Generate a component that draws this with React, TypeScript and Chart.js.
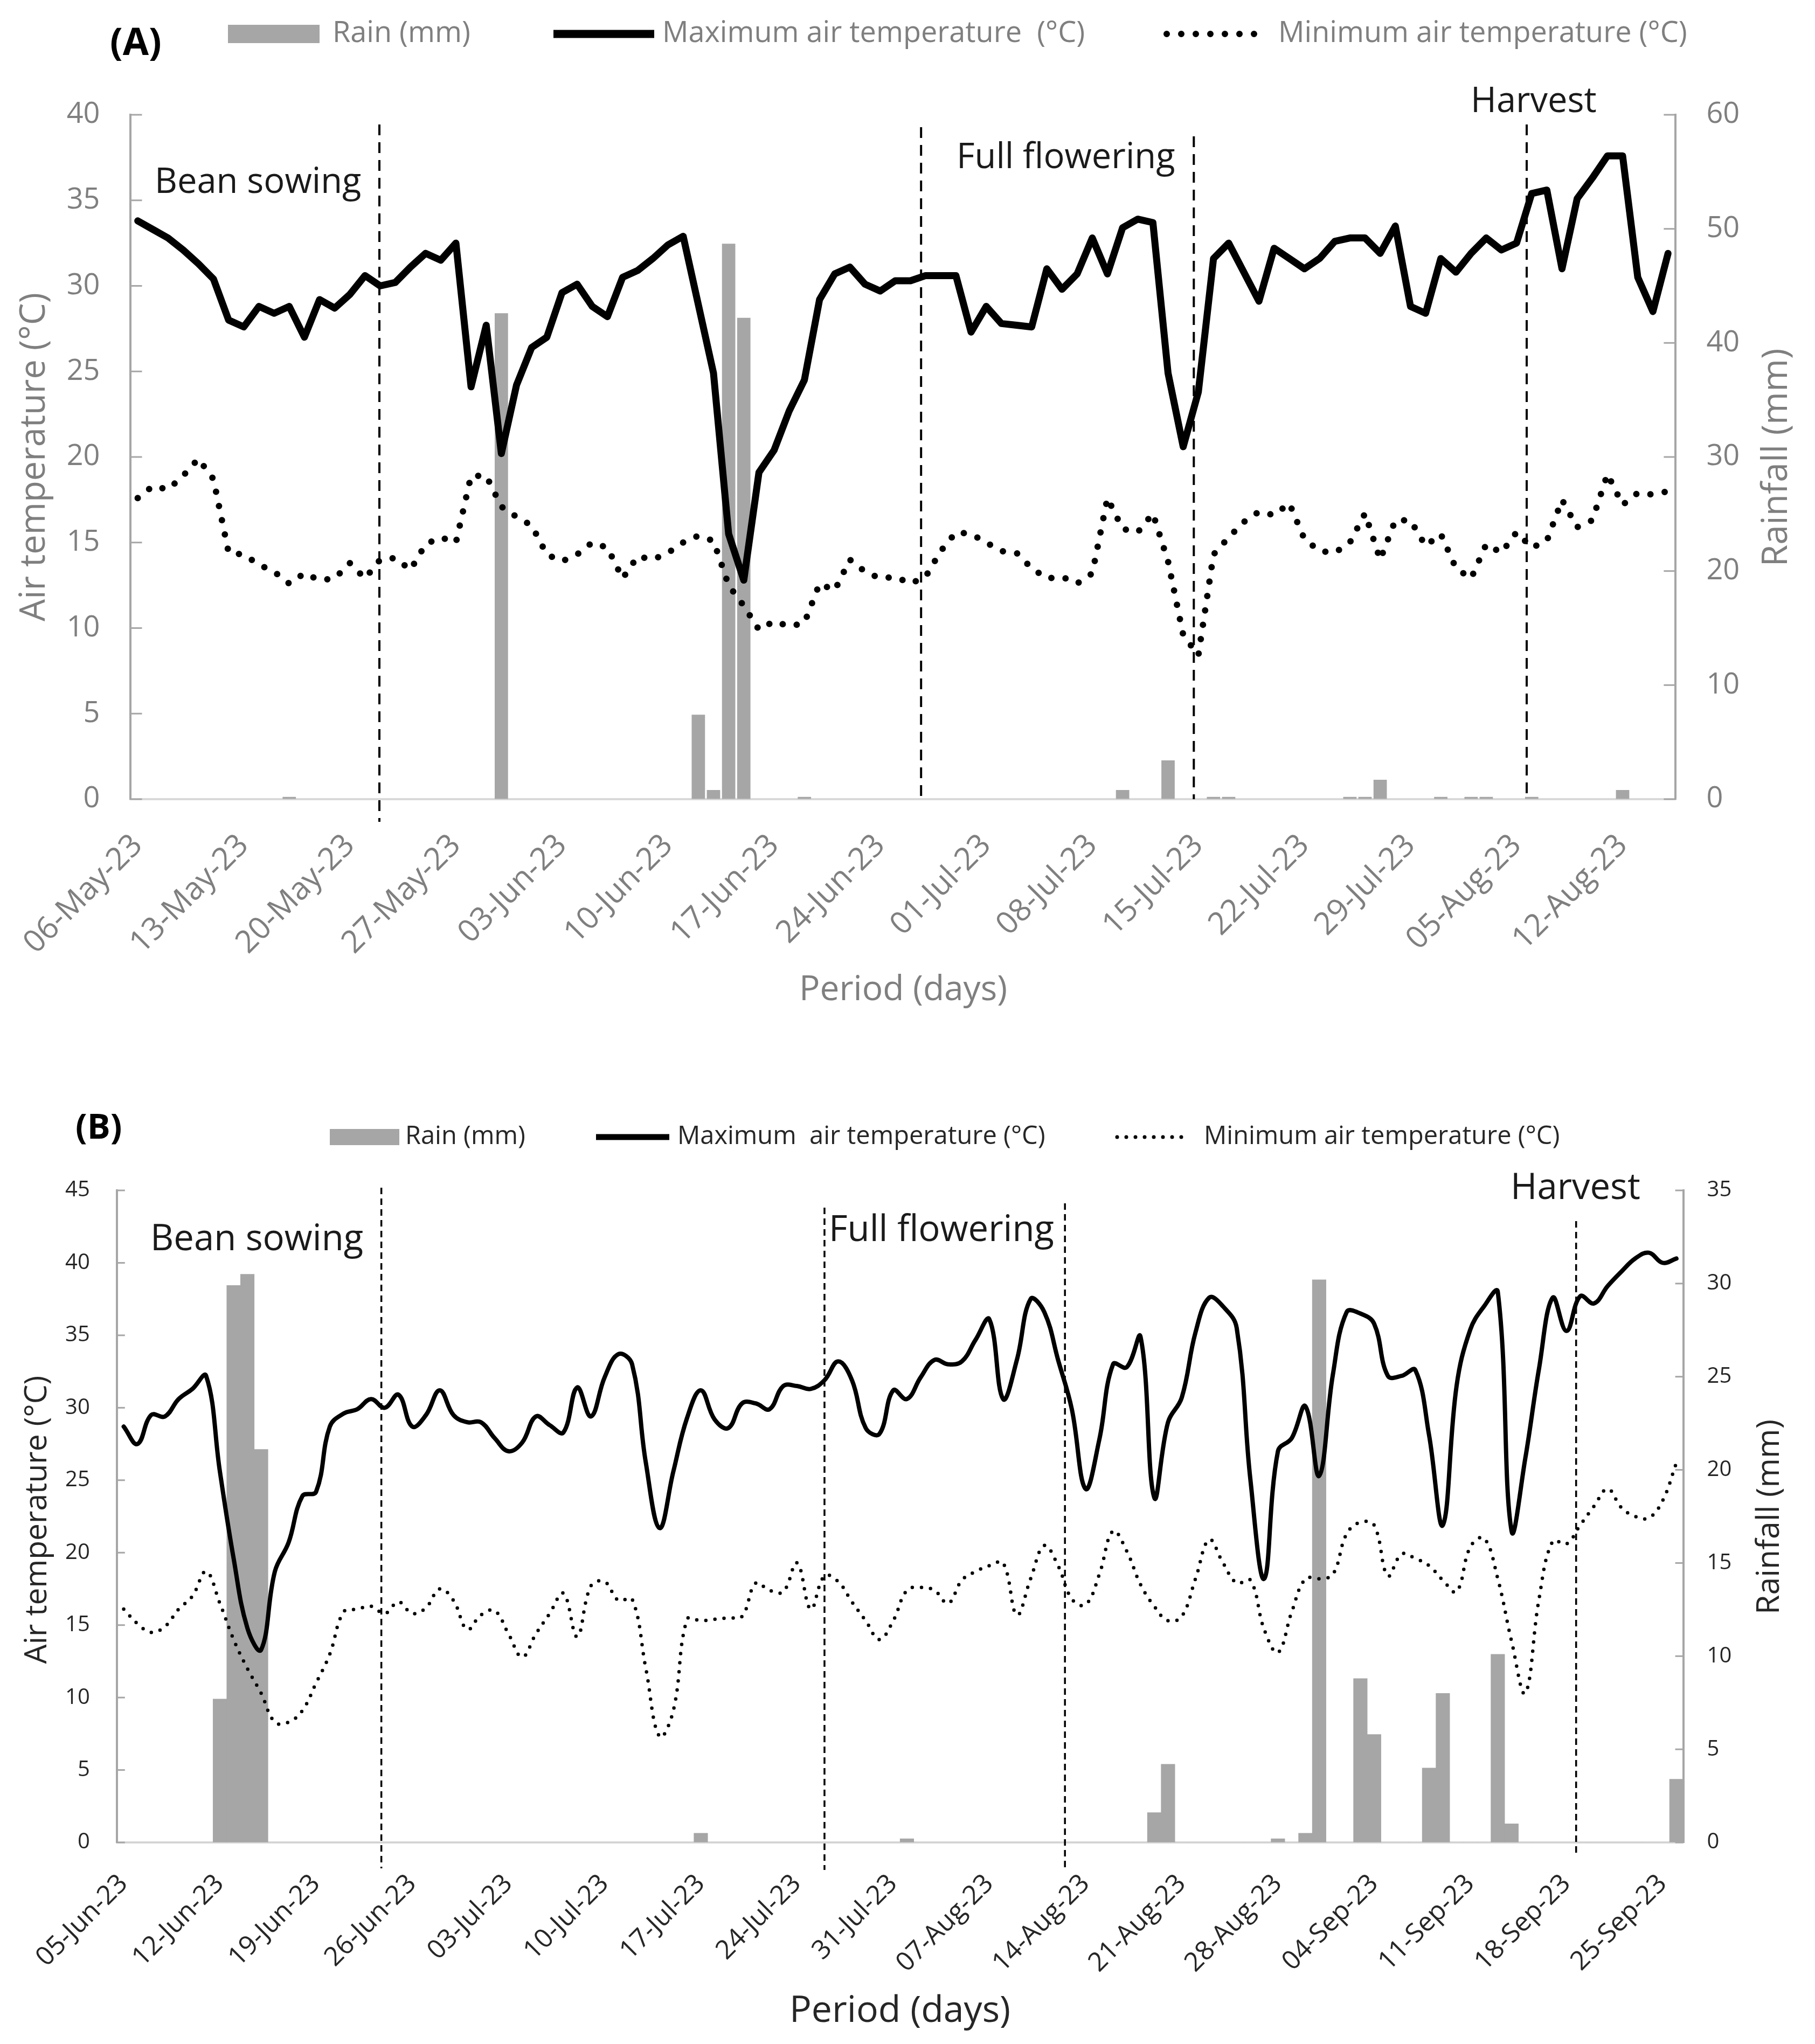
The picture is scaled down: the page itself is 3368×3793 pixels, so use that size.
import React, { useEffect, useRef } from 'react';
import { Chart, registerables } from 'chart.js';

Chart.register(...registerables);

const FONT = '"Open Sans", "Noto Sans", "DejaVu Sans", sans-serif';
const MONTHS = ['Jan', 'Feb', 'Mar', 'Apr', 'May', 'Jun', 'Jul', 'Aug', 'Sep', 'Oct', 'Nov', 'Dec'];

function dailyLabels(year: number, month: number, day: number, n: number): string[] {
  const out: string[] = [];
  for (let i = 0; i < n; i++) {
    const dt = new Date(Date.UTC(year, month, day + i));
    out.push(
      String(dt.getUTCDate()).padStart(2, '0') + '-' + MONTHS[dt.getUTCMonth()] + '-' + String(dt.getUTCFullYear()).slice(2)
    );
  }
  return out;
}

// ======================= Panel (A) data =======================
const seriesNamesA = ['Rain (mm)', 'Maximum air temperature  (°C)', 'Minimum air temperature (°C)'];
const rainA = [
  0, 0, 0, 0, 0, 0, 0, 0, 0, 0,
  0.2, 0, 0, 0, 0, 0, 0, 0, 0, 0,
  0, 0, 0, 0, 42.6, 0, 0, 0, 0, 0,
  0, 0, 0, 0, 0, 0, 0, 7.4, 0.8, 48.7,
  42.2, 0, 0, 0, 0.2, 0, 0, 0, 0, 0,
  0, 0, 0, 0, 0, 0, 0, 0, 0, 0,
  0, 0, 0, 0, 0, 0.8, 0, 0, 3.4, 0,
  0, 0.2, 0.2, 0, 0, 0, 0, 0, 0, 0,
  0.2, 0.2, 1.7, 0, 0, 0, 0.2, 0, 0.2, 0.2,
  0, 0, 0.2, 0, 0, 0, 0, 0, 0.8, 0,
  0, 0,
];
const tmaxA = [
  33.8, 33.3, 32.8, 32.1, 31.3, 30.4, 28.0, 27.6, 28.8, 28.4,
  28.8, 27.0, 29.2, 28.7, 29.5, 30.6, 30.0, 30.2, 31.1, 31.9,
  31.5, 32.5, 24.1, 27.7, 20.2, 24.2, 26.4, 27.0, 29.6, 30.1,
  28.8, 28.2, 30.5, 30.9, 31.6, 32.4, 32.9, 28.9, 24.9, 15.5,
  12.8, 19.1, 20.4, 22.7, 24.5, 29.2, 30.7, 31.1, 30.1, 29.7,
  30.3, 30.3, 30.6, 30.6, 30.6, 27.3, 28.8, 27.8, 27.7, 27.6,
  31.0, 29.8, 30.7, 32.8, 30.7, 33.4, 33.9, 33.7, 24.9, 20.6,
  23.8, 31.6, 32.5, 30.8, 29.1, 32.2, 31.6, 31.0, 31.6, 32.6,
  32.8, 32.8, 31.9, 33.5, 28.8, 28.4, 31.6, 30.8, 31.9, 32.8,
  32.1, 32.5, 35.4, 35.6, 31.0, 35.1, 36.3, 37.6, 37.6, 30.5,
  28.5, 31.9,
];
const tminA = [
  17.6, 18.3, 18.1, 18.9, 19.9, 18.7, 14.4, 14.3, 13.7, 13.3,
  12.6, 13.2, 12.8, 12.9, 13.8, 12.9, 14.0, 14.1, 13.4, 14.9,
  15.3, 15.0, 18.9, 18.9, 17.1, 16.5, 16.0, 14.3, 13.9, 14.3,
  15.0, 14.7, 12.9, 14.2, 14.0, 14.4, 15.0, 15.4, 15.1, 12.5,
  11.3, 9.9, 10.4, 10.1, 10.3, 12.6, 12.2, 14.0, 13.3, 12.9,
  13.0, 12.6, 13.0, 14.5, 15.6, 15.5, 15.0, 14.5, 14.4, 13.5,
  12.9, 13.0, 12.6, 13.2, 17.6, 15.8, 15.6, 16.7, 13.9, 9.6,
  8.4, 14.3, 15.3, 16.2, 16.8, 16.6, 17.3, 15.2, 14.5, 14.4,
  15.0, 16.7, 14.0, 16.3, 16.3, 14.8, 15.5, 13.5, 12.9, 14.9,
  14.4, 15.6, 14.7, 15.1, 17.5, 15.9, 16.3, 19.0, 17.2, 17.9,
  17.8, 18.0,
];
const xTicksA = [
  '06-May-23', '13-May-23', '20-May-23', '27-May-23', '03-Jun-23', '10-Jun-23', '17-Jun-23', '24-Jun-23',
  '01-Jul-23', '08-Jul-23', '15-Jul-23', '22-Jul-23', '29-Jul-23', '05-Aug-23', '12-Aug-23',
];
const tempAxisA = [0, 40, 5];
const rainAxisA = [0, 60, 10];
const stagesA = ['Bean sowing', 'Full flowering', 'Harvest'];
const stageDaysA = [15.95, 51.7, 69.7, 91.67];

// ======================= Panel (B) data =======================
const seriesNamesB = ['Rain (mm)', 'Maximum  air temperature (°C)', 'Minimum air temperature (°C)'];
const rainB = [
  0, 0, 0, 0, 0, 0, 0, 7.7, 29.9, 30.5,
  21.1, 0, 0, 0, 0, 0, 0, 0, 0, 0,
  0, 0, 0, 0, 0, 0, 0, 0, 0, 0,
  0, 0, 0, 0, 0, 0, 0, 0, 0, 0,
  0, 0, 0.5, 0, 0, 0, 0, 0, 0, 0,
  0, 0, 0, 0, 0, 0, 0, 0.2, 0, 0,
  0, 0, 0, 0, 0, 0, 0, 0, 0, 0,
  0, 0, 0, 0, 0, 1.6, 4.2, 0, 0, 0,
  0, 0, 0, 0, 0.2, 0, 0.5, 30.2, 0, 0,
  8.8, 5.8, 0, 0, 0, 4.0, 8.0, 0, 0, 0,
  10.1, 1.0, 0, 0, 0, 0, 0, 0, 0, 0,
  0, 0, 0, 3.4,
];
const tmaxB = [
  28.7, 27.5, 29.5, 29.4, 30.6, 31.3, 32.2, 25.6, 19.6, 14.8,
  13.3, 18.7, 20.7, 23.9, 24.2, 28.7, 29.6, 29.9, 30.6, 30.0,
  30.9, 28.7, 29.5, 31.2, 29.5, 29.0, 29.0, 27.9, 27.0, 27.6,
  29.4, 28.8, 28.3, 31.4, 29.4, 32.1, 33.7, 33.0, 26.2, 21.7,
  25.6, 29.3, 31.2, 29.2, 28.6, 30.3, 30.3, 29.9, 31.5, 31.5,
  31.3, 31.9, 33.2, 31.9, 28.6, 28.2, 31.2, 30.6, 32.1, 33.3,
  33.0, 33.2, 34.7, 36.1, 30.6, 33.3, 37.5, 36.6, 33.3, 29.9,
  24.4, 27.8, 33.0, 32.8, 34.9, 23.8, 29.0, 30.7, 35.2, 37.6,
  37.0, 35.5, 25.0, 18.2, 27.0, 27.9, 30.1, 25.3, 32.3, 36.6,
  36.5, 35.8, 32.2, 32.2, 32.6, 28.1, 21.9, 31.5, 35.4, 37.0,
  38.0, 21.5, 26.5, 32.7, 37.6, 35.3, 37.7, 37.2, 38.4, 39.4,
  40.3, 40.7, 40.0, 40.3,
];
const tminB = [
  16.1, 15.1, 14.5, 14.9, 16.1, 17.0, 18.7, 16.5, 14.0, 12.0,
  10.3, 8.3, 8.3, 9.1, 11.0, 13.0, 15.9, 16.1, 16.3, 15.8,
  16.6, 15.8, 16.2, 17.5, 16.7, 14.7, 15.7, 16.0, 14.4, 12.8,
  14.4, 15.8, 17.2, 14.2, 17.7, 18.0, 16.7, 16.8, 12.0, 7.3,
  9.1, 15.4, 15.3, 15.4, 15.5, 15.6, 17.9, 17.4, 17.3, 19.3,
  16.1, 18.4, 18.0, 16.6, 15.3, 14.0, 15.3, 17.4, 17.6, 17.4,
  16.5, 18.1, 18.7, 19.1, 19.3, 15.7, 18.2, 20.5, 19.1, 16.8,
  16.4, 18.5, 21.5, 20.1, 17.8, 16.3, 15.3, 15.6, 18.2, 20.9,
  19.3, 17.9, 18.1, 14.7, 13.1, 15.9, 18.2, 18.2, 18.5, 21.3,
  22.1, 21.9, 18.4, 19.9, 19.6, 19.1, 18.1, 17.3, 20.4, 21.0,
  18.2, 13.9, 10.3, 16.8, 20.8, 20.6, 21.9, 23.2, 24.4, 23.1,
  22.5, 22.4, 23.6, 26.2,
];
const xTicksB = [
  '05-Jun-23', '12-Jun-23', '19-Jun-23', '26-Jun-23', '03-Jul-23', '10-Jul-23', '17-Jul-23', '24-Jul-23',
  '31-Jul-23', '07-Aug-23', '14-Aug-23', '21-Aug-23', '28-Aug-23', '04-Sep-23', '11-Sep-23', '18-Sep-23', '25-Sep-23',
];
const tempAxisB = [0, 45, 5];
const rainAxisB = [0, 35, 5];
const stagesB = ['Bean sowing', 'Full flowering', 'Harvest'];
const stageDaysB = [18.75, 51.0, 68.5, 105.7];

// ======================= panel definitions =======================
const panelA = {
  labels: dailyLabels(2023, 4, 6, rainA.length),
  xTicks: xTicksA,
  names: seriesNamesA,
  rain: rainA,
  tmax: tmaxA,
  tmin: tminA,
  tempAxis: tempAxisA,
  rainAxis: rainAxisA,
  stages: stagesA,
  stageDays: stageDaysA,
  panelLabel: '(A)',
  titles: ['Air temperature (°C)', 'Rainfall (mm)', 'Period (days)'],
  style: {
    top: 0,
    height: 1960,
    padTop: 213,
    leftW: 241.5,
    rightW: 258.6,
    bottomH: 477,
    textColor: '#7f7f7f',
    axisColor: '#a6a6a6',
    axisWidth: 4,
    xAxisColor: '#d9d9d9',
    xAxisWidth: 4,
    tickLen: 22,
    tickWidth: 3,
    yTickSize: 54,
    yTickPadL: 56,
    yTickPadR: 57,
    xTickSize: 58,
    xTickPad: 52,
    barColor: '#a6a6a6',
    barPct: 0.88,
    maxWidth: 13,
    minWidth: 12,
    minDash: [0, 27],
    tension: 0,
    stageWidth: 4,
    stageDash: [20, 13],
    stageTop: [231, 236, 253, 231],
    stageBottom: [1525, 1483, 1483, 1483],
    stageSize: 65,
    stagePos: [[287, 358], [1775, 312], [2729, 208]],
    titleL: { x: 64, y: 848, size: 65 },
    titleR: { x: 3297, y: 849, size: 66 },
    titleB: { x: 1676, y: 1838, size: 64 },
    panelLabelPos: { x: 204, y: 82, size: 70 },
    legend: {
      y: 63,
      size: 54,
      color: '#7f7f7f',
      items: [
        { ds: 2, x0: 423, x1: 593, tx: 617, h: 34 },
        { ds: 0, x0: 1027, x1: 1214, tx: 1229, w: 15 },
        { ds: 1, x0: 2165, x1: 2342, tx: 2372, w: 12, dash: [0, 27], cap: 'round' },
      ],
    },
  },
};

const panelB = {
  labels: dailyLabels(2023, 5, 5, rainB.length),
  xTicks: xTicksB,
  names: seriesNamesB,
  rain: rainB,
  tmax: tmaxB,
  tmin: tminB,
  tempAxis: tempAxisB,
  rainAxis: rainAxisB,
  stages: stagesB,
  stageDays: stageDaysB,
  panelLabel: '(B)',
  titles: ['Air temperature (°C)', 'Rainfall (mm)', 'Period (days)'],
  style: {
    top: 1960,
    height: 1833,
    padTop: 249,
    leftW: 216.8,
    rightW: 244.4,
    bottomH: 374,
    textColor: '#262626',
    axisColor: '#a6a6a6',
    axisWidth: 4,
    xAxisColor: '#d9d9d9',
    xAxisWidth: 4,
    tickLen: 15,
    tickWidth: 3,
    yTickSize: 40,
    yTickPadL: 50,
    yTickPadR: 44,
    xTickSize: 49,
    xTickPad: 48,
    barColor: '#a6a6a6',
    barPct: 1,
    maxWidth: 8,
    minWidth: 6.5,
    minDash: [0, 17],
    tension: 0.4,
    stageWidth: 3.5,
    stageDash: [12, 8],
    stageTop: [244, 281, 273, 306],
    stageBottom: [1507, 1510, 1507, 1483],
    stageSize: 67,
    stagePos: [[279, 360], [1538, 343], [2803, 265]],
    titleL: { x: 70, y: 860, size: 57 },
    titleR: { x: 3284, y: 855, size: 59 },
    titleB: { x: 1670, y: 1773, size: 68 },
    panelLabelPos: { x: 140, y: 135, size: 64 },
    legend: {
      y: 150,
      size: 47,
      color: '#262626',
      items: [
        { ds: 2, x0: 612, x1: 741, tx: 752, h: 30 },
        { ds: 0, x0: 1106, x1: 1242, tx: 1257, w: 11 },
        { ds: 1, x0: 2073, x1: 2198, tx: 2234, w: 7, dash: [0, 17], cap: 'round' },
      ],
    },
  },
};

// ======================= overlay plugin =======================
const overlayPlugin = {
  id: 'overlay',
  afterDraw(chart: any, _args: any, o: any) {
    const { ctx, chartArea: ca, scales } = chart;
    const xs = scales.x;
    const yT = scales.yT;
    const yR = scales.yR;
    const s = o.style;
    ctx.save();

    // inner tick marks (Excel style)
    ctx.strokeStyle = s.axisColor;
    ctx.lineWidth = s.tickWidth;
    ctx.setLineDash([]);
    for (const t of yT.ticks) {
      const py = yT.getPixelForValue(t.value);
      ctx.beginPath();
      ctx.moveTo(ca.left, py);
      ctx.lineTo(ca.left + s.tickLen, py);
      ctx.stroke();
    }
    for (const t of yR.ticks) {
      const py = yR.getPixelForValue(t.value);
      ctx.beginPath();
      ctx.moveTo(ca.right - s.tickLen, py);
      ctx.lineTo(ca.right, py);
      ctx.stroke();
    }

    // stage marker lines
    ctx.strokeStyle = '#000';
    ctx.lineWidth = s.stageWidth;
    ctx.lineCap = 'butt';
    ctx.setLineDash(s.stageDash);
    o.stageDays.forEach((d: number, i: number) => {
      const px = xs.getPixelForValue(d);
      ctx.beginPath();
      ctx.moveTo(px, s.stageTop[i]);
      ctx.lineTo(px, s.stageBottom[i]);
      ctx.stroke();
    });
    ctx.setLineDash([]);

    // stage texts
    ctx.fillStyle = '#1a1a1a';
    ctx.font = `${s.stageSize}px ${FONT}`;
    ctx.textAlign = 'left';
    ctx.textBaseline = 'alphabetic';
    o.stages.forEach((t: string, i: number) => {
      ctx.fillText(t, s.stagePos[i][0], s.stagePos[i][1]);
    });

    // axis titles
    const rotText = (text: string, x: number, y: number, size: number) => {
      ctx.save();
      ctx.translate(x, y);
      ctx.rotate(-Math.PI / 2);
      ctx.font = `${size}px ${FONT}`;
      ctx.fillStyle = s.textColor;
      ctx.textAlign = 'center';
      ctx.textBaseline = 'middle';
      ctx.fillText(text, 0, 0);
      ctx.restore();
    };
    rotText(o.titles[0], s.titleL.x, s.titleL.y, s.titleL.size);
    rotText(o.titles[1], s.titleR.x, s.titleR.y, s.titleR.size);
    ctx.font = `${s.titleB.size}px ${FONT}`;
    ctx.fillStyle = s.textColor;
    ctx.textAlign = 'center';
    ctx.textBaseline = 'middle';
    ctx.fillText(o.titles[2], s.titleB.x, s.titleB.y);

    // panel label
    ctx.font = `bold ${s.panelLabelPos.size}px ${FONT}`;
    ctx.fillStyle = '#000';
    ctx.textAlign = 'left';
    ctx.textBaseline = 'middle';
    ctx.fillText(o.panelLabel, s.panelLabelPos.x, s.panelLabelPos.y);

    // legend
    const lg = s.legend;
    for (const it of lg.items) {
      const ds = chart.data.datasets[it.ds];
      if (ds.type === 'bar') {
        ctx.fillStyle = ds.backgroundColor;
        ctx.fillRect(it.x0, lg.y - it.h / 2, it.x1 - it.x0, it.h);
      } else {
        ctx.strokeStyle = ds.borderColor;
        ctx.lineWidth = it.w;
        ctx.lineCap = it.cap || 'butt';
        ctx.setLineDash(it.dash || []);
        ctx.beginPath();
        ctx.moveTo(it.x0, lg.y);
        ctx.lineTo(it.x1, lg.y);
        ctx.stroke();
        ctx.setLineDash([]);
      }
      ctx.font = `${lg.size}px ${FONT}`;
      ctx.fillStyle = lg.color;
      ctx.textAlign = 'left';
      ctx.textBaseline = 'middle';
      ctx.fillText(ds.label, it.tx, lg.y);
    }
    ctx.restore();
  },
};

function buildConfig(p: any): any {
  const s = p.style;
  return {
    type: 'bar',
    data: {
      labels: p.labels,
      datasets: [
        {
          type: 'line',
          label: p.names[1],
          data: p.tmax,
          yAxisID: 'yT',
          borderColor: '#000000',
          borderWidth: s.maxWidth,
          borderJoinStyle: 'round',
          borderCapStyle: 'round',
          pointRadius: 0,
          tension: s.tension,
          fill: false,
          order: 1,
        },
        {
          type: 'line',
          label: p.names[2],
          data: p.tmin,
          yAxisID: 'yT',
          borderColor: '#000000',
          borderWidth: s.minWidth,
          borderDash: s.minDash,
          borderCapStyle: 'round',
          borderJoinStyle: 'round',
          pointRadius: 0,
          tension: s.tension,
          fill: false,
          order: 2,
        },
        {
          type: 'bar',
          label: p.names[0],
          data: p.rain,
          yAxisID: 'yR',
          backgroundColor: s.barColor,
          borderWidth: 0,
          barPercentage: s.barPct,
          categoryPercentage: 1,
          order: 3,
        },
      ],
    },
    options: {
      responsive: false,
      maintainAspectRatio: false,
      animation: false,
      events: [],
      layout: { padding: { top: s.padTop, left: 0, right: 0, bottom: 0 } },
      plugins: {
        legend: { display: false },
        tooltip: { enabled: false },
        title: { display: false },
        overlay: {
          style: s,
          stages: p.stages,
          stageDays: p.stageDays,
          titles: p.titles,
          panelLabel: p.panelLabel,
        },
      },
      scales: {
        x: {
          type: 'category',
          offset: true,
          grid: { display: true, drawOnChartArea: false, drawTicks: false },
          border: { display: true, color: s.xAxisColor, width: s.xAxisWidth },
          ticks: {
            autoSkip: false,
            minRotation: 45,
            maxRotation: 45,
            padding: s.xTickPad,
            color: s.textColor,
            font: { family: FONT, size: s.xTickSize },
            callback: (_v: any, i: number) => {
              const l = p.labels[i];
              return p.xTicks.includes(l) ? l : '';
            },
          },
          afterFit: (sc: any) => {
            sc.height = s.bottomH;
          },
        },
        yT: {
          type: 'linear',
          position: 'left',
          min: p.tempAxis[0],
          max: p.tempAxis[1],
          ticks: {
            stepSize: p.tempAxis[2],
            padding: s.yTickPadL,
            color: s.textColor,
            font: { family: FONT, size: s.yTickSize },
          },
          grid: { display: true, drawOnChartArea: false, drawTicks: false },
          border: { display: true, color: s.axisColor, width: s.axisWidth },
          afterFit: (sc: any) => {
            sc.width = s.leftW;
          },
        },
        yR: {
          type: 'linear',
          position: 'right',
          min: p.rainAxis[0],
          max: p.rainAxis[1],
          ticks: {
            stepSize: p.rainAxis[2],
            padding: s.yTickPadR,
            color: s.textColor,
            font: { family: FONT, size: s.yTickSize },
          },
          grid: { display: true, drawOnChartArea: false, drawTicks: false },
          border: { display: true, color: s.axisColor, width: s.axisWidth },
          afterFit: (sc: any) => {
            sc.width = s.rightW;
          },
        },
      },
    },
    plugins: [overlayPlugin],
  };
}

function Panel({ cfg }: { cfg: any }) {
  const ref = useRef<HTMLCanvasElement | null>(null);
  useEffect(() => {
    if (!ref.current) return;
    const chart = new Chart(ref.current, buildConfig(cfg));
    return () => chart.destroy();
  }, [cfg]);
  return (
    <canvas
      ref={ref}
      width={3368}
      height={cfg.style.height}
      style={{ position: 'absolute', left: 0, top: cfg.style.top, width: 3368, height: cfg.style.height, display: 'block' }}
    />
  );
}

export default function App() {
  return (
    <div
      style={{
        position: 'absolute',
        left: 0,
        top: 0,
        width: 3368,
        height: 3793,
        background: '#ffffff',
        overflow: 'hidden',
      }}
    >
      <Panel cfg={panelA} />
      <Panel cfg={panelB} />
    </div>
  );
}
